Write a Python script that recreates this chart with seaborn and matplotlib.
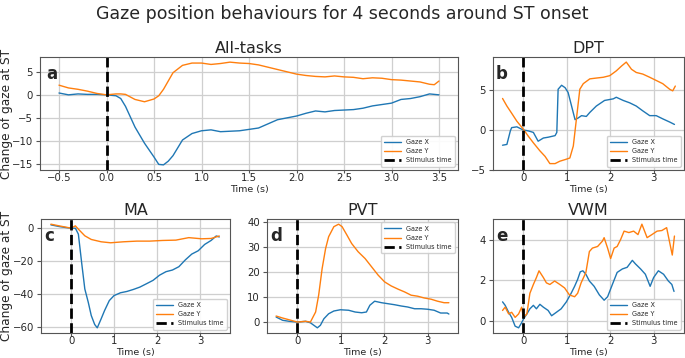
import matplotlib
matplotlib.use("Agg")
import matplotlib.pyplot as plt
import seaborn as sns
import numpy as np
import pandas as pd

# ---------------- data ----------------
# Panel a: All-tasks
a_t = [-0.5, -0.4, -0.3, -0.2, -0.1, 0.0, 0.1, 0.15, 0.2, 0.3, 0.4, 0.5, 0.55, 0.6, 0.65, 0.7, 0.8, 0.9,
       1.0, 1.1, 1.2, 1.3, 1.4, 1.5, 1.6, 1.7, 1.8, 1.9, 2.0, 2.1, 2.2, 2.3, 2.4, 2.5, 2.6, 2.7,
       2.8, 2.9, 3.0, 3.1, 3.2, 3.3, 3.4, 3.45, 3.5]
a_x = [0.4, 0.0, 0.2, 0.1, 0.1, 0.0, -0.2, -0.8, -2.5, -7.0, -10.5, -13.5, -15.1, -15.2, -14.4, -13.2, -9.8, -8.4,
       -7.8, -7.6, -8.0, -7.9, -7.8, -7.5, -7.2, -6.3, -5.4, -5.0, -4.6, -4.0, -3.5, -3.7, -3.4, -3.3, -3.2, -2.9,
       -2.4, -2.1, -1.8, -1.0, -0.8, -0.4, 0.2, 0.1, 0.0]
a_y = [2.1, 1.5, 1.2, 0.8, 0.3, 0.0, 0.2, 0.2, 0.1, -1.0, -1.5, -0.9, -0.2, 1.2, 3.0, 4.8, 6.4, 6.9,
       6.9, 6.6, 6.8, 7.1, 6.9, 6.8, 6.5, 6.0, 5.5, 5.0, 4.5, 4.2, 4.0, 3.9, 4.1, 3.9, 3.8, 3.5,
       3.7, 3.6, 3.3, 3.2, 3.0, 2.8, 2.3, 2.2, 3.0]

# Panel b: DPT
b_tx = [-0.48, -0.38, -0.3, -0.27, -0.15, 0.0, 0.11, 0.23, 0.34, 0.46, 0.57, 0.73, 0.77, 0.80, 0.88, 0.96,
        1.03, 1.11, 1.19, 1.26, 1.34, 1.45, 1.53, 1.68, 1.87, 2.07, 2.14, 2.30, 2.45, 2.60, 2.75, 2.91,
        3.06, 3.21, 3.37, 3.48]
b_x = [-1.9, -1.8, -0.1, 0.3, 0.4, 0.0, -0.1, -0.3, -1.4, -1.0, -0.9, -0.7, -0.3, 5.1, 5.6, 5.3,
       4.7, 3.0, 1.3, 1.5, 1.8, 1.7, 2.2, 3.0, 3.7, 3.9, 4.1, 3.7, 3.4, 3.0, 2.4, 1.8,
       1.8, 1.4, 1.0, 0.7]
b_ty = [-0.48, -0.38, -0.27, -0.15, 0.0, 0.11, 0.23, 0.38, 0.50, 0.61, 0.73, 0.84, 0.96, 1.07, 1.15, 1.22,
        1.30, 1.38, 1.53, 1.68, 1.84, 1.99, 2.14, 2.26, 2.37, 2.49, 2.60, 2.75, 2.91, 3.06, 3.21, 3.37,
        3.44, 3.50]
b_y = [3.95, 3.0, 2.1, 1.1, 0.1, -0.75, -1.6, -2.6, -3.3, -4.2, -4.2, -3.9, -3.7, -3.5, -2.0, 1.3,
       5.1, 5.8, 6.4, 6.5, 6.6, 6.8, 7.4, 8.0, 8.5, 7.6, 7.2, 7.0, 6.6, 6.2, 5.8, 5.1,
       4.9, 5.5]

# Panel c: MA
c_tx = [-0.47, -0.28, -0.13, 0.0, 0.1, 0.17, 0.25, 0.32, 0.4, 0.47, 0.55, 0.61, 0.7, 0.78, 0.89, 1.0,
        1.15, 1.3, 1.45, 1.6, 1.76, 1.91, 2.06, 2.21, 2.36, 2.51, 2.66, 2.81, 2.96, 3.11, 3.26, 3.38, 3.45]
c_x = [1.6, 0.6, 0.0, -0.4, -0.4, -4.0, -22.0, -37.0, -45.0, -53.0, -58.4, -60.4, -55.0, -50.0, -44.0, -41.0,
       -39.3, -38.5, -37.3, -35.9, -33.8, -31.8, -28.7, -26.6, -25.6, -23.6, -19.5, -16.0, -14.0, -10.2, -7.8, -5.1, -5.7]
c_ty = [-0.47, -0.28, 0.0, 0.1, 0.17, 0.32, 0.47, 0.70, 0.92, 1.22, 1.53, 1.83, 2.13, 2.44, 2.74, 3.04, 3.26, 3.45]
c_y = [2.0, 1.0, -0.4, 1.0, -1.0, -5.0, -7.2, -8.6, -9.2, -8.6, -8.2, -8.2, -7.8, -7.6, -6.1, -6.8, -6.6, -5.1]

# Panel d: PVT
d_tx = [-0.49, -0.34, -0.19, 0.0, 0.19, 0.3, 0.38, 0.46, 0.53, 0.61, 0.72, 0.84, 0.99, 1.18, 1.33, 1.48,
        1.59, 1.67, 1.78, 1.94, 2.09, 2.24, 2.39, 2.54, 2.70, 2.85, 3.0, 3.15, 3.30, 3.45, 3.49]
d_x = [2.0, 0.7, 0.3, 0.0, 0.3, -0.3, -1.3, -2.3, -1.3, 1.3, 3.3, 4.4, 4.9, 4.7, 4.0, 3.7,
       4.0, 6.7, 8.3, 7.7, 7.3, 6.9, 6.4, 6.0, 5.3, 5.3, 5.1, 4.7, 3.6, 3.6, 3.2]
d_ty = [-0.49, -0.34, -0.19, 0.0, 0.19, 0.3, 0.42, 0.49, 0.57, 0.65, 0.72, 0.84, 0.95, 1.03, 1.14, 1.25,
        1.40, 1.56, 1.71, 1.86, 2.01, 2.16, 2.32, 2.47, 2.62, 2.77, 2.92, 3.08, 3.23, 3.38, 3.49]
d_y = [2.4, 1.6, 0.9, 0.0, 0.3, 0.0, 4.0, 10.7, 21.3, 29.3, 34.0, 38.0, 39.0, 38.0, 34.7, 31.3,
       28.0, 25.3, 22.0, 18.7, 16.0, 14.4, 13.1, 12.0, 10.7, 10.3, 9.6, 9.1, 8.3, 7.7, 7.7]

# Panel e: VWM
e_tx = [-0.48, -0.42, -0.34, -0.27, -0.19, -0.11, -0.04, 0.0, 0.08, 0.15, 0.23, 0.30, 0.38, 0.46, 0.57, 0.65,
        0.76, 0.87, 0.99, 1.10, 1.18, 1.25, 1.31, 1.37, 1.44, 1.52, 1.63, 1.75, 1.86, 1.94, 2.05, 2.16,
        2.28, 2.39, 2.51, 2.58, 2.70, 2.81, 2.92, 3.0, 3.11, 3.23, 3.34, 3.42, 3.47]
e_x = [0.95, 0.78, 0.44, 0.19, -0.24, -0.32, -0.07, 0.1, 0.36, 0.61, 0.78, 0.61, 0.83, 0.69, 0.53, 0.27,
       0.44, 0.61, 0.95, 1.37, 1.71, 2.05, 2.42, 2.47, 2.3, 1.97, 1.71, 1.29, 1.03, 1.2, 1.8, 2.39,
       2.56, 2.64, 2.98, 2.81, 2.56, 2.3, 1.71, 2.14, 2.47, 2.3, 1.97, 1.8, 1.46]
e_ty = [-0.48, -0.42, -0.34, -0.27, -0.19, -0.11, -0.04, 0.0, 0.08, 0.15, 0.23, 0.30, 0.36, 0.46, 0.53, 0.61,
        0.72, 0.84, 0.95, 1.06, 1.18, 1.25, 1.33, 1.44, 1.52, 1.59, 1.71, 1.82, 1.86, 1.94, 2.01, 2.09,
        2.16, 2.24, 2.32, 2.43, 2.54, 2.64, 2.73, 2.85, 2.96, 3.08, 3.19, 3.30, 3.38, 3.43, 3.48]
e_y = [0.53, 0.69, 0.36, 0.44, 0.19, 0.36, 0.69, 0.19, 0.36, 1.37, 1.8, 2.14, 2.47, 2.14, 1.88, 1.8,
       1.97, 1.8, 1.63, 1.29, 1.2, 1.37, 1.88, 2.39, 3.41, 3.58, 3.66, 3.92, 4.09, 3.58, 3.07, 3.58,
       3.66, 4.0, 4.41, 4.34, 4.41, 4.24, 4.75, 4.09, 4.24, 4.41, 4.44, 4.58, 3.75, 3.24, 4.17]

titles = ["All-tasks", "DPT", "MA", "PVT", "VWM"]
letters = ["a", "b", "c", "d", "e"]
legend_labels = ["Gaze X", "Gaze Y", "Stimulus time"]
suptitle = "Gaze position behaviours for 4 seconds around ST onset"

# ---------------- figure ----------------
sns.set_style("ticks")
plt.rcParams['font.family'] = ['DejaVu Sans']
fig = plt.figure(figsize=(6.85, 3.58), dpi=100)

W, H = 685.0, 358.0
def box(l, r, t, b):
    return [l / W, 1 - b / H, (r - l) / W, (b - t) / H]

px_boxes = [(40, 458, 57, 170), (493, 684, 57, 170),
            (41, 230, 219, 333), (267, 458, 219, 333), (493, 684, 219, 333)]

panels = [(a_t, a_x, a_t, a_y), (b_tx, b_x, b_ty, b_y), (c_tx, c_x, c_ty, c_y),
          (d_tx, d_x, d_ty, d_y), (e_tx, e_x, e_ty, e_y)]
leg_locs = ["lower right", "lower right", "lower right", "upper right", "lower right"]
xticks_list = [np.arange(-0.5, 3.51, 0.5), [0, 1, 2, 3], [0, 1, 2, 3], [0, 1, 2, 3], [0, 1, 2, 3]]
yticks_list = [[-15, -10, -5, 0, 5], [-5, 0, 5], [-60, -40, -20, 0], [0, 10, 20, 30, 40], [0, 2, 4]]

blue = "#1f77b4"
orange = "#ff7f0e"

for i, (pb, (tx, x, ty, y)) in enumerate(zip(px_boxes, panels)):
    ax = fig.add_axes(box(*pb))
    hpx = pb[3] - pb[2]
    dfx = pd.DataFrame({"t": tx, "v": x})
    dfy = pd.DataFrame({"t": ty, "v": y})
    sns.lineplot(data=dfx, x="t", y="v", ax=ax, color=blue, lw=1.0, label=legend_labels[0])
    sns.lineplot(data=dfy, x="t", y="v", ax=ax, color=orange, lw=1.0, label=legend_labels[1])
    ax.axvline(0, color="black", ls="--", lw=2, label=legend_labels[2])
    ax.set_xlim(-0.7, 3.7)
    ax.set_xticks(xticks_list[i])
    ax.set_yticks(yticks_list[i])
    ax.grid(True, color="#cfcfcf", lw=0.9)
    ax.tick_params(axis="x", labelsize=7.3, length=2, width=0.8, pad=0.5, color="#555555")
    ax.tick_params(axis="y", labelsize=7.3, length=3, width=0.8, pad=2, color="#555555")
    for s in ax.spines.values():
        s.set_color("#555555")
        s.set_linewidth(0.8)
    ax.set_title(titles[i], fontsize=11.5, pad=3)
    ax.set_xlabel("Time (s)", fontsize=6.8)
    ax.xaxis.set_label_coords(0.5, -14.6 / hpx)
    if i in (0, 2):
        ax.set_ylabel("Change of gaze at ST", fontsize=8.7)
        ax.yaxis.set_label_coords((13 - pb[0]) / (pb[1] - pb[0]), 0.5)
    else:
        ax.set_ylabel("")
    ax.text(0.015, 0.93, letters[i], transform=ax.transAxes, fontsize=12,
            fontweight="bold", va="top", ha="left")
    ax.legend(loc=leg_locs[i], fontsize=4.7, frameon=True, handlelength=2.6,
              borderpad=0.5, labelspacing=0.5, framealpha=0.9, edgecolor="#cccccc")

fig.suptitle(suptitle, fontsize=12.5, y=0.985)
fig.savefig("out.png", dpi=100)
